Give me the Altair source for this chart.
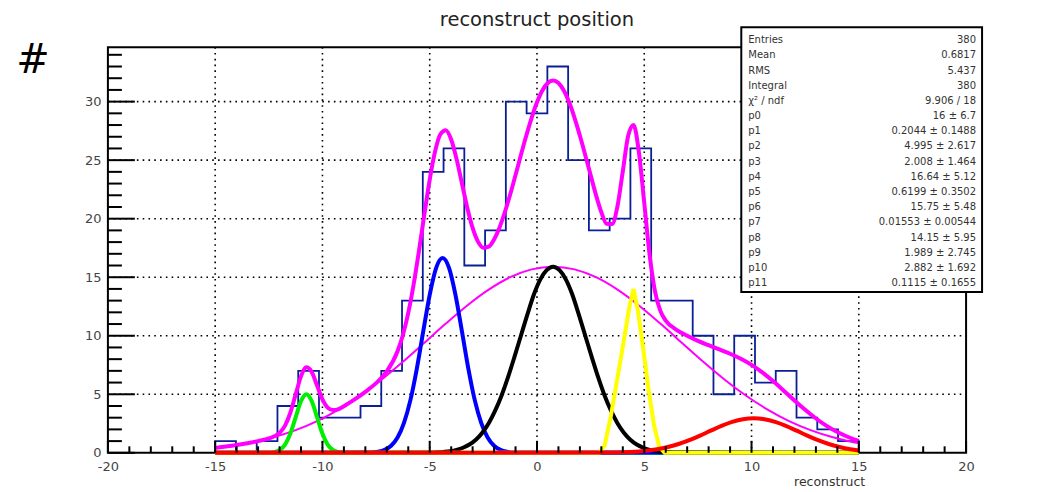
import altair as alt
import pandas as pd

# ---------------- data ----------------
hist_range = [-15, 15]
hist_counts = [1, 0, 1, 4, 7, 3, 3, 4, 7, 13, 24, 26, 16, 19, 30, 29, 33, 25,
               19, 20, 26, 13, 13, 10, 5, 10, 6, 7, 3, 2, 1]

total_x = [-15, -14.5, -14, -13.5, -13, -12.5, -12, -11.75, -11.5, -11.25, -11, -10.75,
           -10.5, -10.25, -10, -9.75, -9.5, -9.25, -9, -8.5, -8, -7.5, -7, -6.5, -6.25,
           -6, -5.75, -5.5, -5.25, -5, -4.75, -4.5, -4.25, -4, -3.75, -3.5, -3.25, -3,
           -2.75, -2.5, -2.25, -2, -1.75, -1.5, -1.25, -1, -0.5, 0, 0.25, 0.5, 0.75, 1,
           1.25, 1.5, 2, 2.5, 2.75, 3, 3.25, 3.5, 3.75, 4, 4.25, 4.5, 4.75, 5, 5.25, 5.5,
           5.75, 6, 6.5, 7, 7.5, 8, 8.5, 9, 9.5, 10, 10.5, 11, 11.5, 12, 12.5, 13, 13.5,
           14, 14.5, 15]
total_y = [0.42, 0.53, 0.66, 0.82, 1.0, 1.23, 1.70, 2.30, 3.40, 4.97, 6.53, 7.30,
           6.91, 5.74, 4.56, 3.85, 3.65, 3.74, 3.98, 4.56, 5.21, 5.95, 6.95, 8.68, 10.07,
           11.96, 14.38, 17.26, 20.36, 23.34, 25.75, 27.23, 27.56, 26.77, 25.11, 23.03, 20.94, 19.21,
           18.04, 17.52, 17.61, 18.23, 19.23, 20.55, 22.07, 23.73, 27.09, 29.94, 30.95, 31.59, 31.8, 31.59,
           30.95, 29.94, 27.09, 23.72, 22.02, 20.55, 19.56, 19.54, 21.05, 24.04, 27.08, 28.0, 25.68, 21.35, 16.89, 13.79,
           12.12, 11.30, 10.51, 10.0, 9.56, 9.19, 8.83, 8.46, 8.03, 7.51, 6.87, 6.13, 5.31, 4.47, 3.67, 2.93, 2.30,
           1.77, 1.35, 1.02]

bkg_x = [-15, -14.25, -13.25, -12.25, -11.25, -10.25, -9.25, -8.25, -7.25, -6.25, -5.25,
         -4.25, -3.25, -2.25, -1.25, -0.25, 0.75, 1.75, 2.75, 3.75, 4.75, 5.75, 6.75,
         7.75, 8.75, 9.75, 10.75, 11.75, 12.75, 13.75, 14.75, 15]
bkg_y = [0.42, 0.59, 0.91, 1.35, 1.94, 2.71, 3.69, 4.87, 6.24, 7.77, 9.40,
         11.04, 12.59, 13.94, 15.0, 15.67, 15.9, 15.67, 15.0, 13.94, 12.59, 11.04, 9.40,
         7.77, 6.24, 4.87, 3.69, 2.71, 1.94, 1.35, 0.91, 0.82]

green_x = [-15, -12.5, -12.25, -12, -11.75, -11.5, -11.25, -11, -10.75, -10.5, -10.25,
           -10, -9.75, -9.5, -9.25, -9, 15]
green_y = [0, 0.01, 0.06, 0.22, 0.68, 1.62, 3.03, 4.41, 5.0, 4.41, 3.03,
           1.62, 0.68, 0.22, 0.06, 0.01, 0]

blue_x = [-15, -7.7, -7.4, -7.1, -6.8, -6.5, -6.2, -5.9, -5.6, -5.3, -5.0, -4.7, -4.4,
          -4.1, -3.8, -3.5, -3.2, -2.9, -2.6, -2.3, -2.0, -1.7, -1.4, -1.1, 15]
blue_y = [0, 0.03, 0.09, 0.25, 0.6, 1.3, 2.56, 4.5, 7.2, 10.4, 13.5, 15.8, 16.64,
          15.8, 13.5, 10.4, 7.2, 4.5, 2.56, 1.3, 0.6, 0.25, 0.09, 0.03, 0]

black_x = [-15, -5.0, -4.65, -4.35, -4.05, -3.75, -3.45, -3.15, -2.85, -2.55, -2.25, -1.95,
           -1.65, -1.35, -1.05, -0.75, -0.45, -0.15, 0.15, 0.45, 0.75, 1.05, 1.35, 1.65,
           1.95, 2.25, 2.55, 2.85, 3.15, 3.45, 3.75, 4.05, 4.35, 4.65, 4.95, 5.25, 5.55,
           5.85, 6.15, 6.5, 15]
black_y = [0, 0.02, 0.04, 0.08, 0.14, 0.25, 0.43, 0.71, 1.12, 1.72, 2.53, 3.6,
           4.9, 6.46, 8.2, 10.0, 11.8, 13.5, 14.8, 15.6, 15.9, 15.6, 14.8, 13.5,
           11.8, 10.0, 8.2, 6.46, 4.9, 3.6, 2.53, 1.72, 1.12, 0.71, 0.43, 0.25, 0.14,
           0.08, 0.04, 0.02, 0]

yellow_x = [-15, 2.9, 3.15, 3.45, 3.75, 4.05, 4.3, 4.5, 4.7, 4.95, 5.2, 5.45, 5.7, 5.95, 15]
yellow_y = [0, 0, 0.6, 3.2, 6.4, 9.6, 12.4, 14.0, 12.2, 8.9, 5.4, 2.4, 0.5, 0, 0]

red_x = [-15, 3.6, 4.1, 4.6, 5.1, 5.6, 6.1, 6.6, 7.1, 7.6, 8.1, 8.6, 9.1, 9.6, 10.1,
         10.6, 11.1, 11.6, 12.1, 12.6, 13.1, 13.6, 14.1, 14.6, 15]
red_y = [0, 0.02, 0.05, 0.1, 0.18, 0.31, 0.5, 0.75, 1.08, 1.47, 1.89, 2.3, 2.64, 2.87, 2.95,
         2.87, 2.64, 2.3, 1.89, 1.47, 1.08, 0.75, 0.5, 0.31, 0.2]

x_domain = [-20, 20]
y_domain = [0, 34.65]
x_major = [-20, -15, -10, -5, 0, 5, 10, 15, 20]
x_minor = [v for v in range(-19, 20) if v % 5 != 0]
y_major = [0, 5, 10, 15, 20, 25, 30]
y_minor = [v for v in range(1, 35) if v % 5 != 0]
x_grid = [-15, -10, -5, 0, 5, 10, 15]
y_grid = [5, 10, 15, 20, 25, 30]

stat_labels = ["Entries", "Mean", "RMS", "Integral", "χ² / ndf", "p0", "p1", "p2", "p3",
               "p4", "p5", "p6", "p7", "p8", "p9", "p10", "p11"]
stat_values = ["380", "0.6817", "5.437", "380", "9.906 / 18", "16 ± 6.7",
               "0.2044 ± 0.1488", "4.995 ± 2.617", "2.008 ± 1.464", "16.64 ± 5.12",
               "0.6199 ± 0.3502", "15.75 ± 5.48", "0.01553 ± 0.00544", "14.15 ± 5.95",
               "1.989 ± 2.745", "2.882 ± 1.692", "0.1115 ± 0.1655"]

title_text = "reconstruct position"
x_title = "reconstruct"
y_title = "#"

# ---------------- layout ----------------
W, H = 859, 406
FONT = "DejaVu Sans"

xs = alt.Scale(domain=x_domain, nice=False, zero=False)
ys = alt.Scale(domain=y_domain, nice=False, zero=False)

x_axis = alt.Axis(values=x_major, ticks=False, domain=False, grid=False, labelFont=FONT,
                  labelFontSize=13, labelColor="#444", labelPadding=8, labelFlush=False,
                  labelOverlap=False, title=None,
                  labelExpr="datum.value < 0 ? '-' + abs(datum.value) : '' + datum.value")
y_axis = alt.Axis(values=y_major, ticks=False, domain=False, grid=False, labelFont=FONT,
                  labelFontSize=13, labelColor="#444", labelPadding=7, labelFlush=False,
                  labelOverlap=False, title=None)


def X(field="x"):
    return alt.X(f"{field}:Q", scale=xs, axis=x_axis)


def Y(field="y"):
    return alt.Y(f"{field}:Q", scale=ys, axis=y_axis)


# histogram as a step outline
nb = len(hist_counts)
bw = (hist_range[1] - hist_range[0]) / nb
hx = [hist_range[0]] + [hist_range[0] + i * bw for i in range(nb)] + [hist_range[1]]
hy = [0] + hist_counts + [0]
hist_df = pd.DataFrame({"x": hx, "y": hy, "o": list(range(len(hx)))})

frame = alt.Chart(pd.DataFrame({"a": [0]})).mark_rect(
    fill="white", stroke="black", strokeWidth=2).encode(
    x=alt.value(0), x2=alt.value(W), y=alt.value(0), y2=alt.value(H))

xgrid = alt.Chart(pd.DataFrame({"x": x_grid})).mark_rule(
    color="black", strokeWidth=1.6, strokeDash=[1.6, 4.2]).encode(
    x=X(), y=alt.value(0), y2=alt.value(H))
ygrid = alt.Chart(pd.DataFrame({"y": y_grid})).mark_rule(
    color="black", strokeWidth=1.6, strokeDash=[1.6, 4.2]).encode(
    y=Y(), x=alt.value(0), x2=alt.value(W))

xmaj = alt.Chart(pd.DataFrame({"x": x_major})).mark_rule(color="black", strokeWidth=2).encode(
    x=X(), y=alt.value(H), y2=alt.value(H - 12))
xmin = alt.Chart(pd.DataFrame({"x": x_minor})).mark_rule(color="black", strokeWidth=2).encode(
    x=X(), y=alt.value(H), y2=alt.value(H - 6.5))
ymaj = alt.Chart(pd.DataFrame({"y": y_major})).mark_rule(color="black", strokeWidth=2).encode(
    y=Y(), x=alt.value(0), x2=alt.value(27))
ymin = alt.Chart(pd.DataFrame({"y": y_minor})).mark_rule(color="black", strokeWidth=2).encode(
    y=Y(), x=alt.value(0), x2=alt.value(14))

hist = alt.Chart(hist_df).mark_line(
    interpolate="step-after", color="#0a1f96", strokeWidth=1.8).encode(
    x=X(), y=Y(), order="o:Q")


def curve(xv, yv, color, width, interp="monotone"):
    df = pd.DataFrame({"x": xv, "y": yv})
    return alt.Chart(df).mark_line(color=color, strokeWidth=width, interpolate=interp).encode(
        x=X(), y=Y())


total = curve(total_x, total_y, "#ff00ff", 4)
bkg = curve(bkg_x, bkg_y, "#ff00ff", 2)
green = curve(green_x, green_y, "#00ee00", 4)
blue = curve(blue_x, blue_y, "#0000ff", 4)
black = curve(black_x, black_y, "#000000", 4)
yellow = curve(yellow_x, yellow_y, "#ffff00", 4, "linear")
red = curve(red_x, red_y, "#ff0000", 4)

one = pd.DataFrame({"labels": ["\n".join(stat_labels)], "values": ["\n".join(stat_values)]})
box = alt.Chart(one).mark_rect(fill="white", stroke="black", strokeWidth=2).encode(
    x=alt.value(634), x2=alt.value(875), y=alt.value(-20), y2=alt.value(245))
stat_l = alt.Chart(one).mark_text(
    align="left", baseline="top", font=FONT, fontSize=10, lineHeight=15.2,
    lineBreak="\n", color="#333").encode(
    x=alt.value(641), y=alt.value(-12), text="labels:N")
stat_v = alt.Chart(one).mark_text(
    align="right", baseline="top", font=FONT, fontSize=10, lineHeight=15.2,
    lineBreak="\n", color="#333").encode(
    x=alt.value(869), y=alt.value(-12), text="values:N")

title = alt.Chart(one).mark_text(
    align="center", baseline="middle", font=FONT, fontSize=19.5, color="#222").encode(
    x=alt.value(W / 2), y=alt.value(-27), text=alt.value(title_text))
xtitle = alt.Chart(one).mark_text(
    align="right", baseline="middle", font=FONT, fontSize=12.5, color="#333").encode(
    x=alt.value(758), y=alt.value(435), text=alt.value(x_title))
ytitle = alt.Chart(one).mark_text(
    align="center", baseline="middle", font=FONT, fontSize=40, color="black").encode(
    x=alt.value(-75), y=alt.value(14), text=alt.value(y_title))

chart = alt.layer(
    frame, xgrid, ygrid, hist, total, bkg, green, blue, black, yellow, red,
    xmaj, xmin, ymaj, ymin, box, stat_l, stat_v, title, xtitle, ytitle
).properties(
    width=W, height=H,
    autosize=alt.AutoSizeParams(type="none"),
    padding={"left": 100, "top": 39, "right": 80, "bottom": 37},
).configure_view(strokeWidth=0)

chart.save("out.html", embed_options={"renderer": "svg", "actions": False})
